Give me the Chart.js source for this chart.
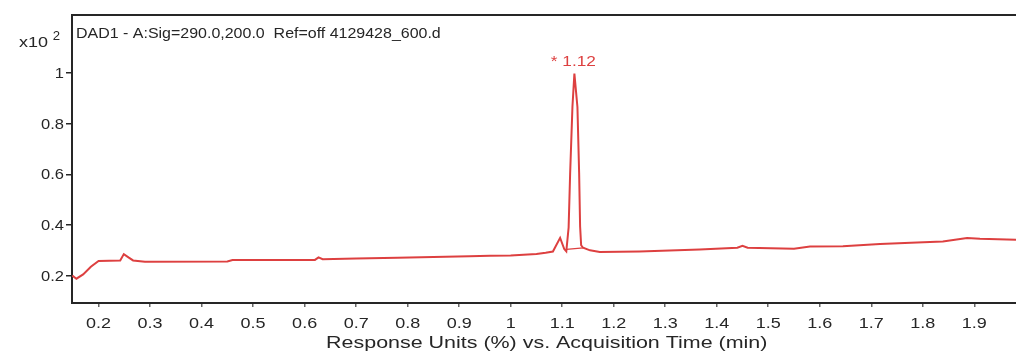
<!DOCTYPE html>
<html>
<head>
<meta charset="utf-8">
<script src="https://cdn.jsdelivr.net/npm/chart.js@4/dist/chart.umd.min.js"></script>
<style>
  html, body { margin: 0; padding: 0; background: #fff; }
  #wrap { width: 1016px; height: 351px; position: relative; }
</style>
</head>
<body>
<div id="wrap"><canvas id="c"></canvas></div>
<script>
// acquisition time (min) and response (x10^2)
const times = [0.149, 0.157, 0.17, 0.185, 0.2, 0.242, 0.249, 0.258, 0.267, 0.29,
  0.45, 0.46, 0.62, 0.627, 0.635, 0.7, 0.78, 0.85, 0.92, 0.96,
  1.0, 1.05, 1.068, 1.082, 1.096, 1.104, 1.108, 1.1125, 1.1154, 1.1199,
  1.1237, 1.1296, 1.1329, 1.1348, 1.1368, 1.1406, 1.154, 1.173, 1.25, 1.367,
  1.44, 1.45, 1.46, 1.55, 1.581, 1.645, 1.717, 1.789, 1.839, 1.886,
  1.911, 1.981];
const response = [0.20, 0.188, 0.205, 0.235, 0.258, 0.26, 0.285, 0.272, 0.26, 0.255,
  0.256, 0.262, 0.262, 0.272, 0.265, 0.268, 0.271, 0.274, 0.277, 0.279,
  0.28, 0.285, 0.29, 0.295, 0.349, 0.305, 0.296, 0.39, 0.6, 0.866,
  0.998, 0.866, 0.606, 0.394, 0.32, 0.31, 0.30, 0.293, 0.295, 0.303,
  0.31, 0.318, 0.31, 0.306, 0.315, 0.316, 0.325, 0.331, 0.335, 0.349,
  0.346, 0.342];
// integration baseline under the main peak
const baseTimes = [1.108, 1.141];
const baseResp = [0.304, 0.31];

const xTicks = [0.2, 0.3, 0.4, 0.5, 0.6, 0.7, 0.8, 0.9, 1, 1.1, 1.2, 1.3, 1.4, 1.5, 1.6, 1.7, 1.8, 1.9];
const yTicks = [0.2, 0.4, 0.6, 0.8, 1];
const peakLabel = '* 1.12';
const title = 'DAD1 - A:Sig=290.0,200.0  Ref=off 4129428_600.d';
const xTitle = 'Response Units (%) vs. Acquisition Time (min)';

const FONT = '"Liberation Sans", Arial, sans-serif';
const RED = '#dd4040';
const INK = '#262626';

// text drawn a bit wider than the font, like the original export
function wideText(ctx, str, x, y, size, stretch, align) {
  ctx.save();
  ctx.font = size + 'px ' + FONT;
  const w = ctx.measureText(str).width * stretch;
  let left = x;
  if (align === 'center') left = x - w / 2;
  else if (align === 'right') left = x - w;
  ctx.translate(left, y);
  ctx.scale(stretch, 1);
  ctx.textAlign = 'left';
  ctx.fillText(str, 0, 0);
  ctx.restore();
}

const overlay = {
  id: 'overlay',
  afterDraw(chart) {
    const { ctx, chartArea: a, scales } = chart;
    ctx.save();
    // top frame line
    ctx.strokeStyle = INK;
    ctx.lineWidth = 2;
    ctx.beginPath();
    ctx.moveTo(a.left - 1, a.top);
    ctx.lineTo(a.right, a.top);
    ctx.stroke();

    ctx.fillStyle = INK;
    ctx.textBaseline = 'alphabetic';
    wideText(ctx, title, a.left + 4, a.top + 23, 15, 1.065, 'left');

    // exponent label
    wideText(ctx, 'x10', a.left - 24, a.top + 32, 15, 1.2, 'right');
    wideText(ctx, '2', a.left - 12, a.top + 25, 12, 1.1, 'right');

    // y tick labels
    yTicks.forEach(v => {
      wideText(ctx, String(v), a.left - 8, scales.y.getPixelForValue(v) + 5, 15, 1.1, 'right');
    });

    // x tick labels
    xTicks.forEach(v => {
      wideText(ctx, String(v), scales.x.getPixelForValue(v), a.bottom + 25, 15, 1.2, 'center');
    });

    // x axis title
    wideText(ctx, xTitle, scales.x.getPixelForValue(1.07), chart.height - 3, 16, 1.34, 'center');

    // peak annotation
    let imax = 0;
    response.forEach((v, i) => { if (v > response[imax]) imax = i; });
    const px = scales.x.getPixelForValue(times[imax]);
    const py = scales.y.getPixelForValue(response[imax]);
    ctx.fillStyle = RED;
    wideText(ctx, peakLabel, px - 1, py - 8, 15, 1.15, 'center');
    ctx.restore();
  }
};

new Chart(document.getElementById('c'), {
  type: 'line',
  data: {
    datasets: [{
      data: times.map((t, i) => ({ x: t, y: response[i] })),
      borderColor: RED,
      borderWidth: 2,
      pointRadius: 0,
      tension: 0,
      fill: false
    }, {
      data: baseTimes.map((t, i) => ({ x: t, y: baseResp[i] })),
      borderColor: RED,
      borderWidth: 1.2,
      pointRadius: 0,
      fill: false
    }]
  },
  options: {
    responsive: true,
    maintainAspectRatio: false,
    animation: false,
    devicePixelRatio: 1,
    layout: { padding: { left: 0, right: 0, top: 15, bottom: 0 } },
    scales: {
      x: {
        type: 'linear',
        min: 0.1484,
        max: 1.981,
        afterBuildTicks: s => { s.ticks = xTicks.map(v => ({ value: v })); },
        afterFit: s => { s.height = 48; },
        ticks: { display: false },
        grid: { drawOnChartArea: false, drawTicks: true, tickLength: 4, color: '#666', lineWidth: 1.5 },
        border: { display: true, color: INK, width: 2 }
      },
      y: {
        min: 0.092,
        max: 1.229,
        afterBuildTicks: s => { s.ticks = yTicks.map(v => ({ value: v })); },
        afterFit: s => { s.width = 72; },
        ticks: { display: false },
        grid: { drawOnChartArea: false, drawTicks: true, tickLength: 6, color: INK, lineWidth: 1.5 },
        border: { display: true, color: INK, width: 2 }
      }
    },
    plugins: {
      legend: { display: false },
      tooltip: { enabled: false }
    }
  },
  plugins: [overlay]
});
</script>
</body>
</html>
